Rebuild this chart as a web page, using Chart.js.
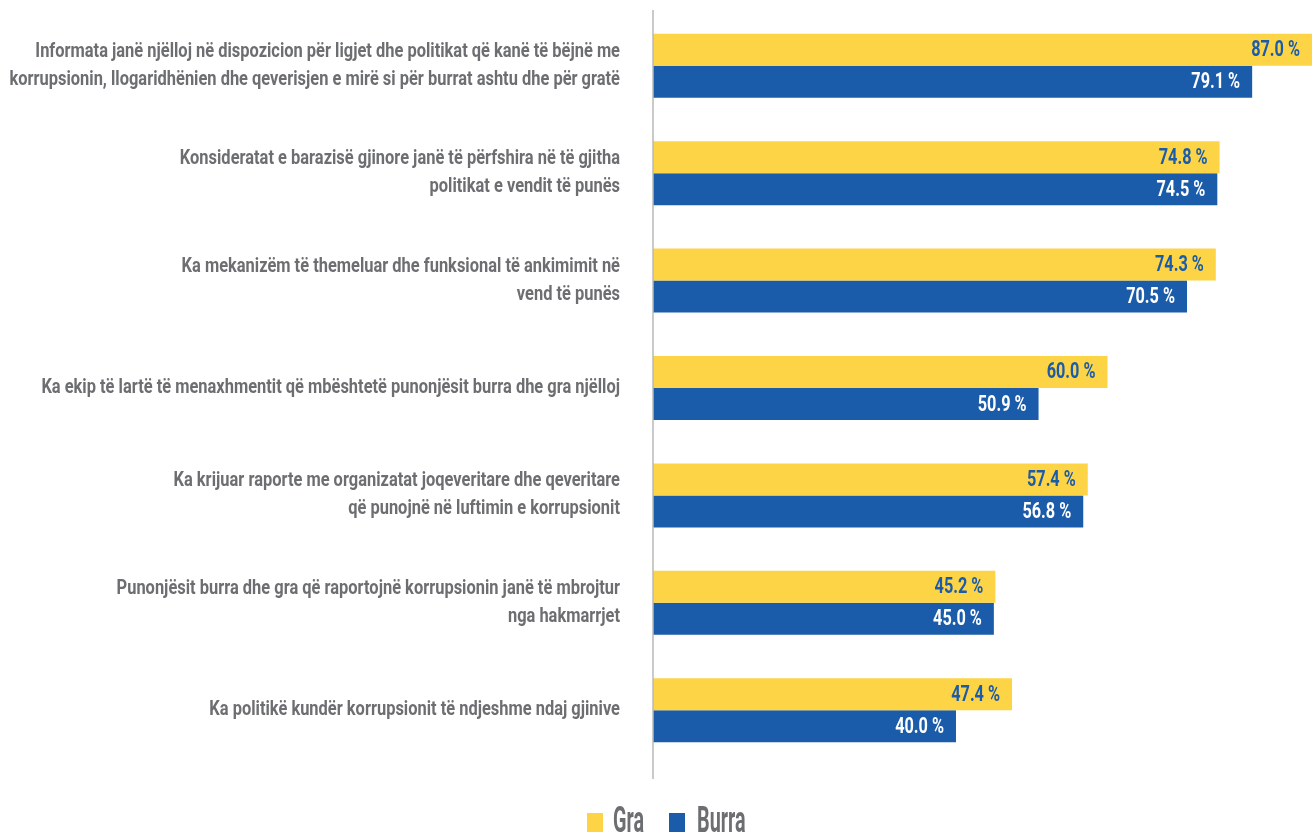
<!DOCTYPE html>
<html>
<head>
<meta charset="utf-8">
<script src="https://cdn.jsdelivr.net/npm/chart.js@4"></script>
<style>
  html, body { margin: 0; padding: 0; background: #ffffff; }
  #wrap { width: 1315px; height: 836px; position: relative; }
</style>
</head>
<body>
<div id="wrap"><canvas id="chart" width="1315" height="836"></canvas></div>
<script>
// Statements (each entry is a list of text lines)
const categories = [
  ["Informata janë njëlloj në dispozicion për ligjet dhe politikat që kanë të bëjnë me",
   "korrupsionin, llogaridhënien dhe qeverisjen e mirë si për burrat ashtu dhe për gratë"],
  ["Konsideratat e barazisë gjinore janë të përfshira në të gjitha",
   "politikat e vendit të punës"],
  ["Ka mekanizëm të themeluar dhe funksional të ankimimit në",
   "vend të punës"],
  ["Ka ekip të lartë të menaxhmentit që mbështetë punonjësit burra dhe gra njëlloj"],
  ["Ka krijuar raporte me organizatat joqeveritare dhe qeveritare",
   "që punojnë në luftimin e korrupsionit"],
  ["Punonjësit burra dhe gra që raportojnë korrupsionin janë të mbrojtur",
   "nga hakmarrjet"],
  ["Ka politikë kundër korrupsionit të ndjeshme ndaj gjinive"]
];

const seriesNames = ["Gra", "Burra"];
const graValues   = [87.0, 74.8, 74.3, 60.0, 57.4, 45.2, 47.4];
const burraValues = [79.1, 74.5, 70.5, 50.9, 56.8, 45.0, 40.0];

const YELLOW = "#FDD446";
const BLUE = "#1B5CAA";
const GREY = "#6D6E71";
const FONT = "Roboto";

// Draw text squeezed horizontally to imitate a condensed typeface
function narrowText(ctx, text, x, y, sx, align) {
  ctx.save();
  ctx.translate(x, y);
  ctx.scale(sx, 1);
  ctx.textAlign = align;
  ctx.fillText(text, 0, 0);
  ctx.restore();
}

const condensedText = {
  id: "condensedText",
  afterDraw(chart) {
    const ctx = chart.ctx;
    const yScale = chart.scales.y;
    const area = chart.chartArea;

    // vertical axis line
    ctx.save();
    ctx.strokeStyle = "#B8B8B8";
    ctx.lineWidth = 1.5;
    ctx.beginPath();
    ctx.moveTo(area.left, 10);
    ctx.lineTo(area.left, 779);
    ctx.stroke();
    ctx.restore();

    // category labels
    ctx.save();
    ctx.fillStyle = GREY;
    ctx.font = "bold 20px " + FONT;
    ctx.textBaseline = "middle";
    const lineH = 28;
    categories.forEach((lines, i) => {
      const cy = yScale.getPixelForValue(i);
      const y0 = cy - (lines.length - 1) * lineH / 2;
      lines.forEach((t, k) => narrowText(ctx, t, 620, y0 + k * lineH, 0.822, "right"));
    });
    ctx.restore();

    // value labels at the end of each bar
    ctx.save();
    ctx.font = "bold 22px " + FONT;
    ctx.textBaseline = "middle";
    chart.data.datasets.forEach((ds, di) => {
      const meta = chart.getDatasetMeta(di);
      ctx.fillStyle = di === 0 ? BLUE : "#FFFFFF";
      meta.data.forEach((bar, j) => {
        narrowText(ctx, ds.data[j].toFixed(1) + " %", bar.x - 12, bar.y + 1, 0.74, "right");
      });
    });
    ctx.restore();

    // legend
    ctx.save();
    ctx.font = "bold 36px " + FONT;
    ctx.textBaseline = "alphabetic";
    const legendItems = [
      { name: seriesNames[0], color: YELLOW, box: 587, text: 613 },
      { name: seriesNames[1], color: BLUE, box: 669, text: 697 }
    ];
    legendItems.forEach(it => {
      ctx.fillStyle = it.color;
      ctx.fillRect(it.box, 813, 16, 19);
      ctx.fillStyle = GREY;
      narrowText(ctx, it.name, it.text, 832, 0.55, "left");
    });
    ctx.restore();
  }
};

new Chart(document.getElementById("chart"), {
  type: "bar",
  data: {
    labels: categories,
    datasets: [
      { label: seriesNames[0], data: graValues, backgroundColor: YELLOW },
      { label: seriesNames[1], data: burraValues, backgroundColor: BLUE }
    ]
  },
  options: {
    indexAxis: "y",
    responsive: false,
    animation: false,
    layout: { padding: { top: 12, bottom: 72, right: 3, left: 0 } },
    datasets: { bar: { categoryPercentage: 0.596, barPercentage: 1.0, borderWidth: 0 } },
    scales: {
      x: { min: 0, max: 87, display: false },
      y: {
        grid: { display: false },
        border: { display: false },
        ticks: { display: false },
        afterFit(scale) { scale.width = 653; }
      }
    },
    plugins: {
      legend: { display: false },
      tooltip: { enabled: false }
    }
  },
  plugins: [condensedText]
});
</script>
</body>
</html>
